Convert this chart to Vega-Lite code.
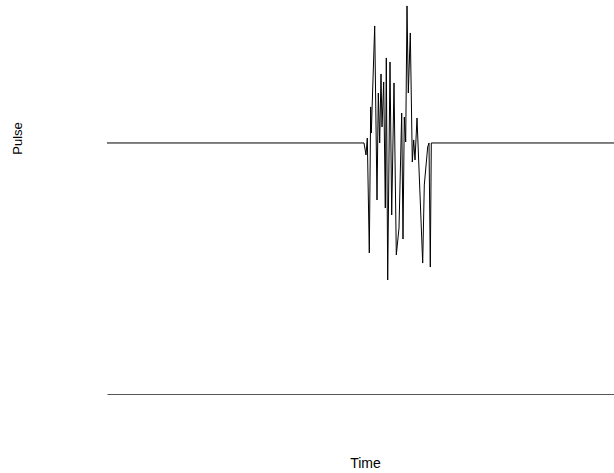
{
  "$schema": "https://vega.github.io/schema/vega-lite/v6.json",
  "width": 507,
  "height": 394,
  "autosize": "none",
  "padding": {"left": 107, "top": 0, "right": 0, "bottom": 79},
  "config": {
    "view": {"stroke": null},
    "font": "Liberation Sans",
    "axis": {"grid": false, "ticks": false, "labels": false, "titleFont": "Liberation Sans", "titleFontWeight": "normal", "titleFontSize": 13, "titleColor": "#000"}
  },
  "data": {
    "values": [
      {"t": 0, "v": 0},
      {"t": 257, "v": 0},
      {"t": 259, "v": -0.087},
      {"t": 260.3, "v": 0.036},
      {"t": 262.3, "v": -0.797},
      {"t": 263.7, "v": 0.261},
      {"t": 264.3, "v": 0.072},
      {"t": 267.7, "v": 0.848},
      {"t": 270, "v": -0.413},
      {"t": 271.3, "v": 0.362},
      {"t": 272.7, "v": 0},
      {"t": 274, "v": 0.5},
      {"t": 275, "v": 0.116},
      {"t": 276.7, "v": 0.442},
      {"t": 278.3, "v": -0.471},
      {"t": 279.3, "v": 0.616},
      {"t": 280.7, "v": -0.993},
      {"t": 283, "v": 0.587},
      {"t": 284.7, "v": -0.522},
      {"t": 287, "v": 0.435},
      {"t": 289.3, "v": -0.812},
      {"t": 292, "v": -0.616},
      {"t": 294.7, "v": 0.217},
      {"t": 296, "v": -0.696},
      {"t": 297.3, "v": 0.188},
      {"t": 298.7, "v": 0.007},
      {"t": 300, "v": 0.993},
      {"t": 301.3, "v": 0.362},
      {"t": 303.3, "v": 0.797},
      {"t": 305.3, "v": -0.138},
      {"t": 306.7, "v": 0.022},
      {"t": 308, "v": -0.123},
      {"t": 310, "v": 0.181},
      {"t": 315.7, "v": -0.87},
      {"t": 317.3, "v": -0.304},
      {"t": 320.7, "v": -0.029},
      {"t": 322, "v": 0},
      {"t": 323.3, "v": -0.899},
      {"t": 324.3, "v": 0},
      {"t": 507, "v": 0}
    ]
  },
  "mark": {"type": "line", "color": "#000", "strokeWidth": 1},
  "encoding": {
    "x": {
      "field": "t", "type": "quantitative", "title": "Time",
      "scale": {"domain": [0, 507], "nice": false, "zero": false},
      "axis": {"domain": true, "domainColor": "#555", "domainWidth": 1, "titleFontSize": 14, "titleX": 258, "titleY": 73, "titleAlign": "center", "titleBaseline": "alphabetic"}
    },
    "y": {
      "field": "v", "type": "quantitative", "title": "Pulse",
      "scale": {"domain": [-1.819, 1.036], "nice": false, "zero": false},
      "axis": {"domain": false, "titleX": -83, "titleY": 138, "titleAlign": "center", "titleAngle": -90}
    }
  }
}
